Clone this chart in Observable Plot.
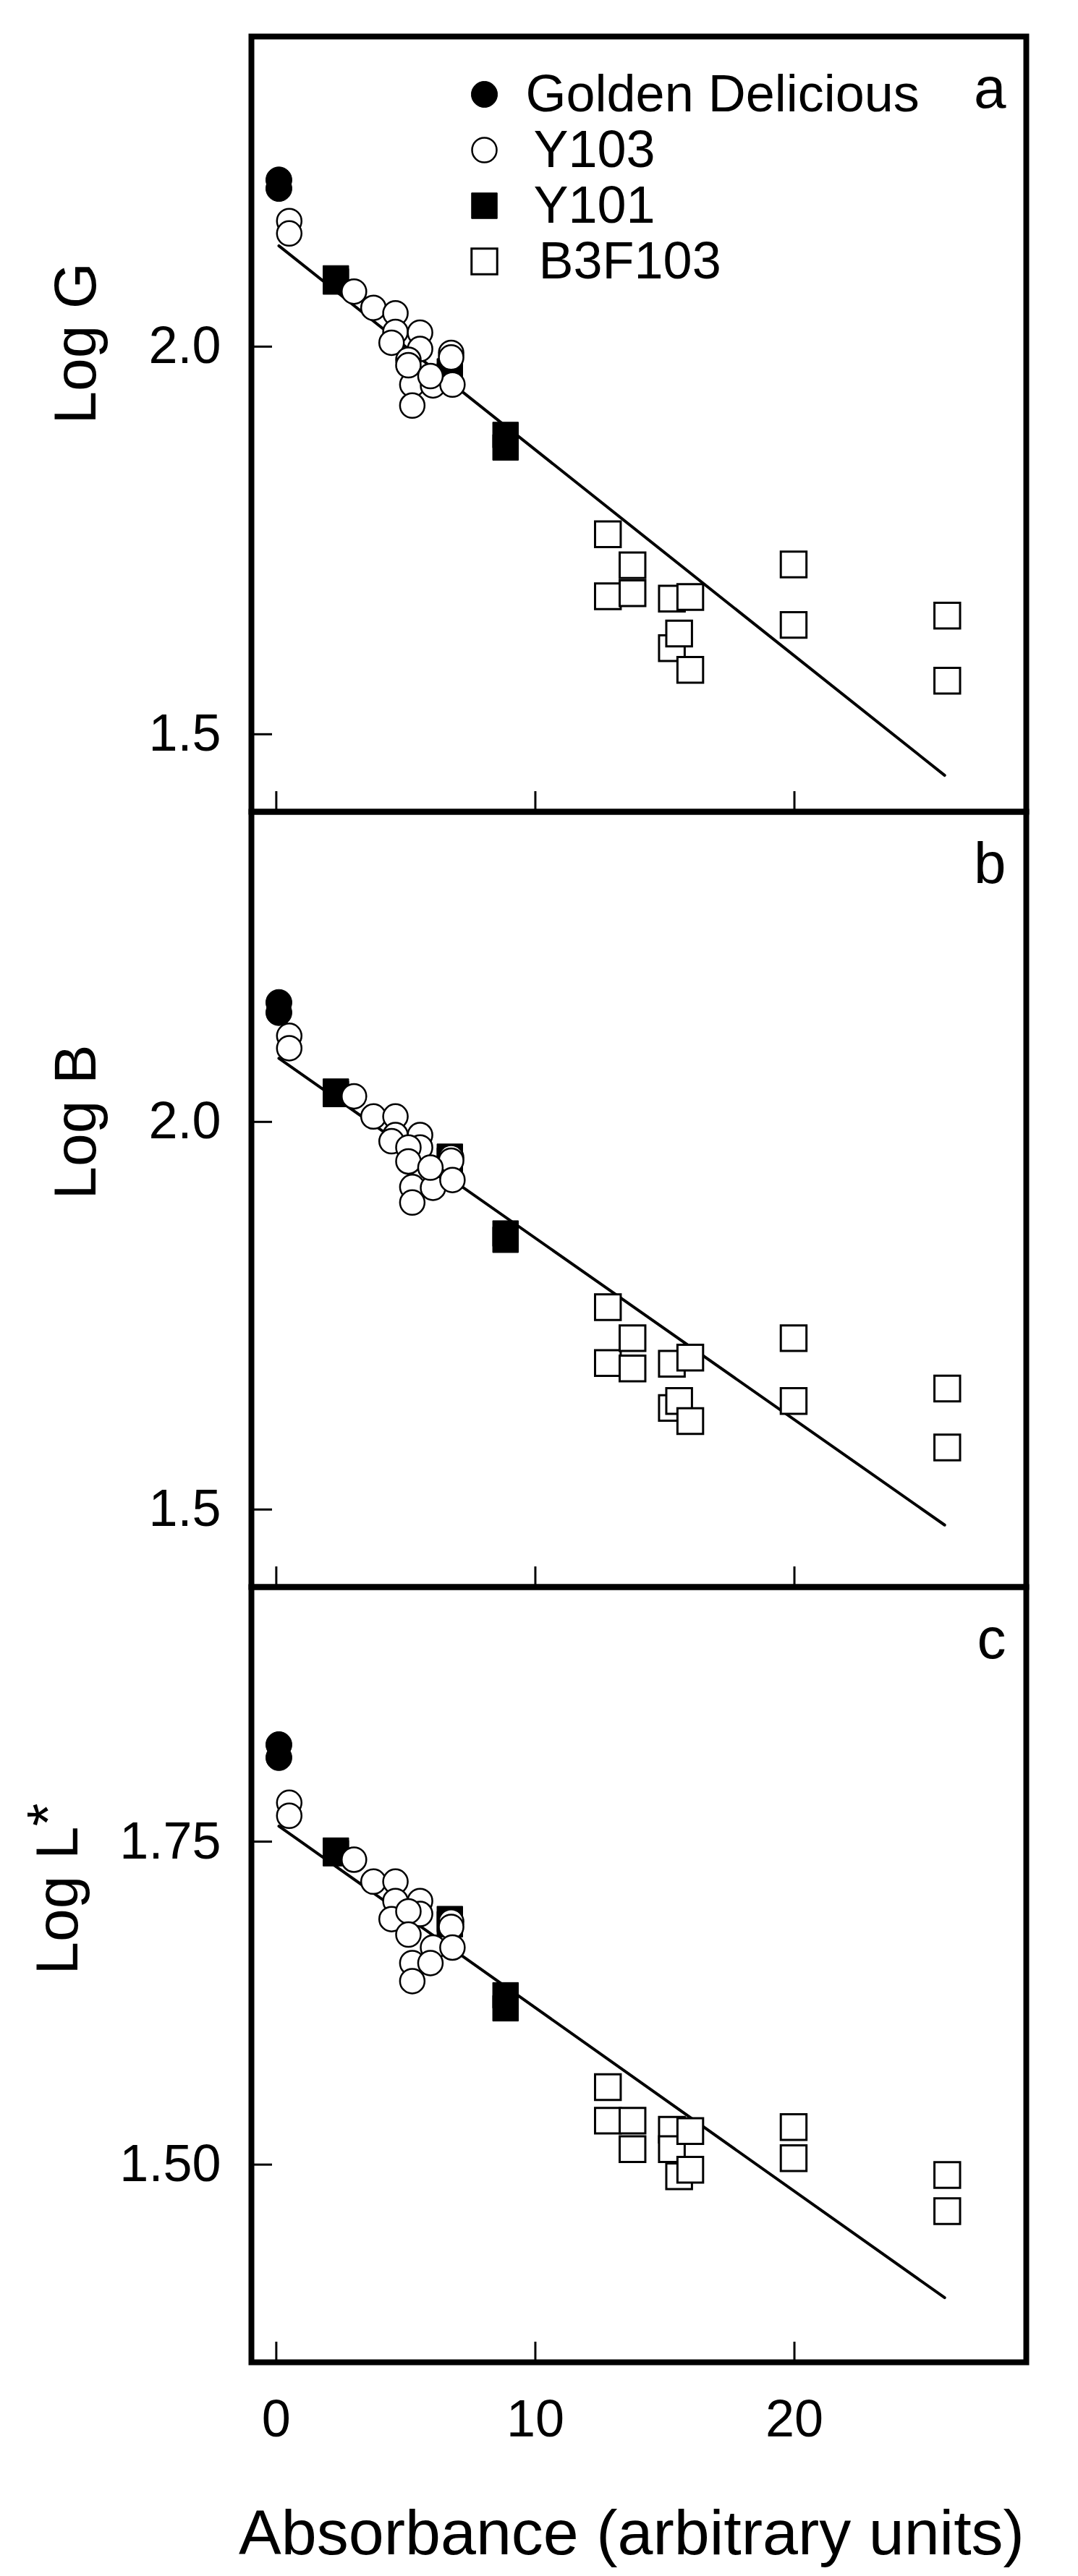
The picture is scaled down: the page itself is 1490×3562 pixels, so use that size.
<!DOCTYPE html>
<html>
<head>
<meta charset="utf-8">
<script src="https://cdn.jsdelivr.net/npm/d3@7"></script>
<script src="https://cdn.jsdelivr.net/npm/@observablehq/plot@0.6"></script>
<style>
  html, body { margin: 0; padding: 0; background: #fff; }
  #chart svg { display: block; overflow: visible; }
</style>
</head>
<body>
<div id="chart"></div>
<script>
// ---------------- DATA ----------------
const xTicks = [0, 10, 20];
const xLabel = "Absorbance (arbitrary units)";
const panelLetters = ["a", "b", "c"];
const yLabels = ["Log G", "Log B", "Log L*"];
const yTicksAB = [1.5, 2.0];
const yTicksC = [1.5, 1.75];
const legendLabels = ["Golden Delicious", "Y103", "Y101", "B3F103"];

// Golden Delicious (filled circles)
const gdX = [0.1, 0.1];
const gdA = [2.215, 2.204];
const gdB = [2.154, 2.141];
const gdC = [1.825, 1.815];

// Y103 (open circles)
const y103X = [0.5, 0.5, 3.0, 3.75, 4.6, 4.6, 4.45, 5.55, 5.55, 5.1, 5.25, 5.25, 6.05, 6.75, 6.75, 6.8, 5.1, 5.95];
const y103A = [2.162, 2.146, 2.071, 2.050, 2.043, 2.019, 2.005, 2.018, 1.997, 1.983, 1.951, 1.924, 1.950, 1.992, 1.986, 1.951, 1.976, 1.962];
const y103B = [2.111, 2.095, 2.033, 2.007, 2.007, 1.983, 1.975, 1.983, 1.967, 1.967, 1.916, 1.896, 1.915, 1.954, 1.950, 1.925, 1.949, 1.941];
const y103C = [1.780, 1.770, 1.736, 1.719, 1.719, 1.704, 1.690, 1.704, 1.694, 1.696, 1.656, 1.642, 1.668, 1.688, 1.684, 1.668, 1.678, 1.656];

// Y101 (filled squares)
const y101X = [2.3, 2.3, 6.7, 6.7, 8.85, 8.85];
const y101A = [2.088, 2.084, 1.968, 1.962, 1.886, 1.870];
const y101B = [2.039, 2.036, 1.955, 1.950, 1.856, 1.848];
const y101C = [1.743, 1.741, 1.690, 1.686, 1.631, 1.621];

// B3F103 (open squares)
const b3fX = [12.8, 12.8, 13.75, 13.75, 15.27, 15.27, 15.55, 15.98, 15.98, 19.97, 19.97, 25.9, 25.9];
const b3fA = [1.758, 1.678, 1.718, 1.682, 1.675, 1.611, 1.630, 1.677, 1.583, 1.719, 1.641, 1.653, 1.569];
const b3fB = [1.761, 1.689, 1.721, 1.682, 1.688, 1.631, 1.640, 1.696, 1.614, 1.721, 1.640, 1.656, 1.580];
const b3fC = [1.560, 1.534, 1.534, 1.512, 1.527, 1.512, 1.491, 1.526, 1.496, 1.529, 1.505, 1.492, 1.464];

// Fitted lines: endpoints
const fitX = [0.1, 25.8];
const fitA = [2.130, 1.447];
const fitB = [2.082, 1.480];
const fitC = [1.762, 1.397];

// ---------------- CHART ----------------
const zip = (xs, ys) => xs.map((x, i) => ({x, y: ys[i]}));
const W = 1490, ML = 347, MR = 72, PH = 1072;
const xDomain = [-0.96, 28.95];
const FONT = "'Liberation Sans', Arial, Helvetica, sans-serif";

function panel({gd, y103, y101, b3f, fit, yDomain, yTicks, yFmt, ylabel, ylabelDx, letter, marginTop, marginBottom, legend, xAxisLabels}) {
  const marks = [
    Plot.line(zip(fitX, fit), {x: "x", y: "y", stroke: "black", strokeWidth: 4}),
    Plot.dot(zip(b3fX, b3f), {x: "x", y: "y", symbol: "square", r: 20, fill: "white", stroke: "black", strokeWidth: 3}),
    Plot.dot(zip(y101X, y101), {x: "x", y: "y", symbol: "square", r: 20, fill: "black", stroke: "black", strokeWidth: 1}),
    Plot.dot(zip(gdX, gd), {x: "x", y: "y", symbol: "circle", r: 18, fill: "black", stroke: "black", strokeWidth: 1}),
    Plot.dot(zip(y103X, y103), {x: "x", y: "y", symbol: "circle", r: 17, fill: "white", stroke: "black", strokeWidth: 2.5}),
    Plot.frame({stroke: "black", strokeWidth: 8}),
    Plot.axisY({ticks: yTicks, tickFormat: d3.format(yFmt), tickSize: 0, tickPadding: 42, fontSize: 72, label: null, fill: "black"}),
    Plot.axisY({ticks: yTicks, tickFormat: () => "", tickSize: 29, dx: 29, strokeWidth: 3, label: null}),
    Plot.axisX({ticks: xTicks, tickFormat: () => "", tickSize: 28, dy: -28, strokeWidth: 3, label: null}),
    Plot.text([ylabel], {text: d => d, frameAnchor: "left", dx: ylabelDx, rotate: -90, fontSize: 82, fill: "black"}),
    Plot.text([letter], {text: d => d, frameAnchor: "top-right", dx: -28, dy: 98, textAnchor: "end", lineAnchor: "bottom", fontSize: 80, fill: "black"})
  ];
  if (xAxisLabels) {
    marks.push(Plot.axisX({ticks: xTicks, tickFormat: d3.format("d"), tickSize: 0, tickPadding: 51, fontSize: 72, label: null, fill: "black"}));
    marks.push(Plot.text([xLabel], {text: d => d, frameAnchor: "bottom", dx: -10, dy: 265, lineAnchor: "bottom", fontSize: 88, fill: "black"}));
  }
  if (legend) {
    const symbols = ["circle", "circle", "square", "square"];
    const fills = ["black", "white", "black", "white"];
    const rs = [18, 17, 20, 20];
    const sws = [1, 2.5, 1, 3];
    const textDx = [379, 390, 390, 397];
    legendLabels.forEach((lab, i) => {
      const dy = 80 + i * 77;
      marks.push(Plot.dot([lab], {frameAnchor: "top-left", dx: 322, dy, symbol: symbols[i], r: rs[i], fill: fills[i], stroke: "black", strokeWidth: sws[i]}));
      marks.push(Plot.text([lab], {text: d => d, frameAnchor: "top-left", dx: textDx[i], dy, textAnchor: "start", lineAnchor: "middle", fontSize: 72, fill: "black"}));
    });
  }
  return Plot.plot({
    width: W,
    height: PH + marginTop + marginBottom,
    marginLeft: ML,
    marginRight: MR,
    marginTop,
    marginBottom,
    style: {fontFamily: FONT, background: "white", color: "black"},
    x: {domain: xDomain, label: null},
    y: {domain: yDomain, label: null},
    marks
  });
}

const chart = document.getElementById("chart");
chart.append(panel({gd: gdA, y103: y103A, y101: y101A, b3f: b3fA, fit: fitA, yDomain: [1.4, 2.4], yTicks: yTicksAB, yFmt: ".1f", ylabel: yLabels[0], ylabelDx: -242, letter: panelLetters[0], marginTop: 50, marginBottom: 0, legend: true}));
chart.append(panel({gd: gdB, y103: y103B, y101: y101B, b3f: b3fB, fit: fitB, yDomain: [1.4, 2.4], yTicks: yTicksAB, yFmt: ".1f", ylabel: yLabels[1], ylabelDx: -242, letter: panelLetters[1], marginTop: 0, marginBottom: 0}));
chart.append(panel({gd: gdC, y103: y103C, y101: y101C, b3f: b3fC, fit: fitC, yDomain: [1.347, 1.947], yTicks: yTicksC, yFmt: ".2f", ylabel: yLabels[2], ylabelDx: -267, letter: panelLetters[2], marginTop: 0, marginBottom: 296, xAxisLabels: true}));

// raise the asterisk of "L*" slightly, as a superscript
chart.querySelectorAll("text").forEach(t => {
  if (t.textContent === "Log L*") {
    t.textContent = "Log L";
    const ts = document.createElementNS("http://www.w3.org/2000/svg", "tspan");
    ts.setAttribute("dy", "-0.15em");
    ts.textContent = "*";
    t.appendChild(ts);
  }
});
</script>
</body>
</html>
